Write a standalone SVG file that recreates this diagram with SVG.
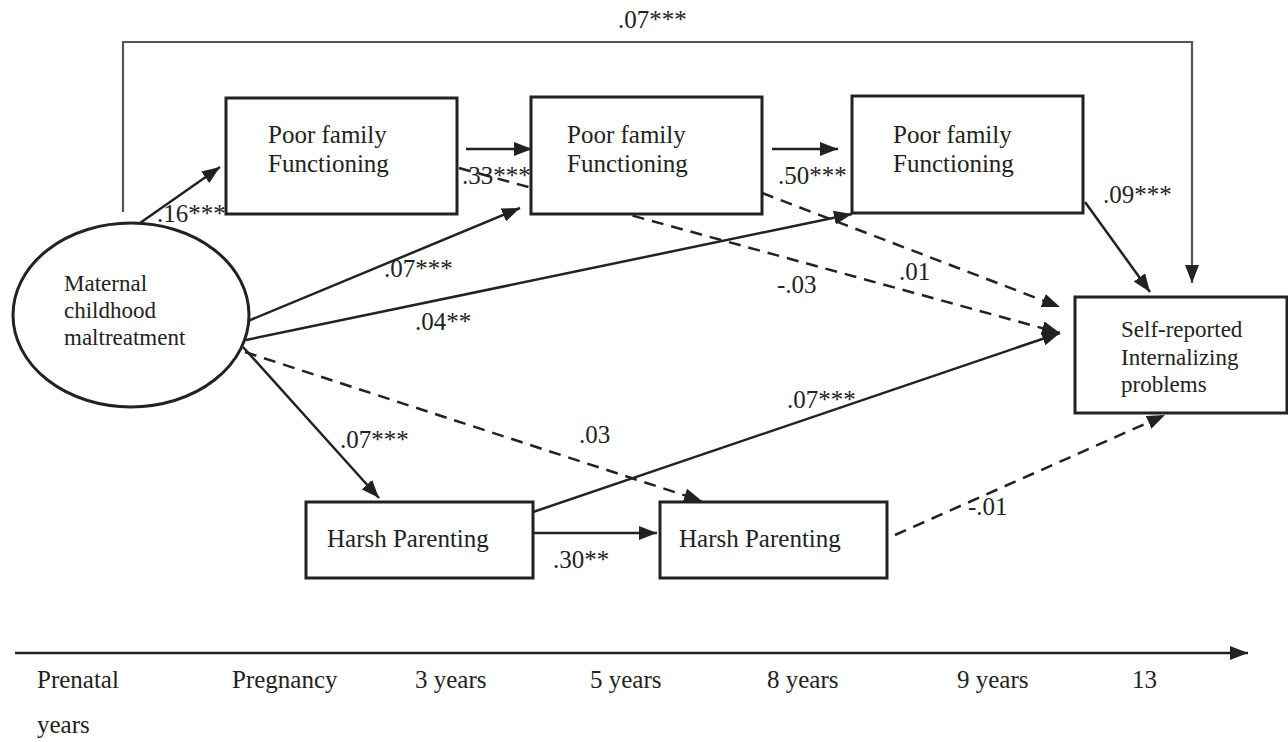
<svg xmlns="http://www.w3.org/2000/svg" width="1288" height="742" viewBox="0 0 1288 742">
<style>
text{font-family:"Liberation Serif","Times New Roman",serif;fill:#222;}
.t{font-size:25px;}
.s{font-size:23px;}
.box{fill:#fff;stroke:#222;stroke-width:3;}
.c{fill:none;stroke:#222;stroke-width:2.5;marker-end:url(#ah);}
.d{stroke-dasharray:12 8;}
</style>
<defs>
<marker id="ah" markerUnits="userSpaceOnUse" markerWidth="18" markerHeight="14" refX="18" refY="7" orient="auto">
<path d="M0,0 L18,7 L0,14 z" fill="#222"/>
</marker>
</defs>
<rect width="1288" height="742" fill="#fff"/>
<g id="connectors">
<polyline points="123,212 123,42 1192,42 1192,283" fill="none" stroke="#555" stroke-width="2.2" marker-end="url(#ah)"/>
<line class="c" x1="140" y1="223" x2="220" y2="167"/>
<line class="c" x1="466" y1="149" x2="532" y2="149"/>
<line class="c" x1="772" y1="149" x2="838" y2="149"/>
<line class="c" x1="248" y1="321" x2="520" y2="208"/>
<line class="c" x1="246" y1="340" x2="852" y2="214"/>
<line class="c" x1="243" y1="347" x2="379" y2="498"/>
<line class="c d" x1="245" y1="352" x2="702" y2="501"/>
<line class="c d" x1="459" y1="168" x2="1060" y2="333"/>
<line class="c d" x1="762" y1="193" x2="1060" y2="307"/>
<line class="c" x1="533" y1="512" x2="1060" y2="333"/>
<line class="c" x1="1085" y1="202" x2="1150" y2="292"/>
<line class="c" x1="533" y1="533" x2="657" y2="533"/>
<line class="c d" x1="895" y1="535" x2="1165" y2="415"/>
<line class="c" x1="15" y1="653" x2="1248" y2="653" stroke-width="3"/>
</g>
<g id="labels">
<text class="t" x="618" y="28">.07***</text>
<text class="t" x="157" y="222">.16***</text>
<text class="t" x="462" y="184">.33***</text>
<text class="t" x="778" y="184">.50***</text>
<text class="t" x="1103" y="203">.09***</text>
<text class="t" x="384" y="277">.07***</text>
<text class="t" x="415" y="330">.04**</text>
<text class="t" x="777" y="293">-.03</text>
<text class="t" x="899" y="280">.01</text>
<text class="t" x="787" y="408">.07***</text>
<text class="t" x="340" y="448">.07***</text>
<text class="t" x="579" y="443">.03</text>
<text class="t" x="553" y="568">.30**</text>
<text class="t" x="968" y="515">-.01</text>
</g>
<g id="maltreatment">
<ellipse cx="131" cy="315" rx="118" ry="92" fill="none" stroke="#222" stroke-width="3"/>
<text class="s" x="64" y="291">Maternal</text>
<text class="s" x="64" y="318">childhood</text>
<text class="s" x="64" y="345">maltreatment</text>
</g>
<g id="pff1">
<rect class="box" x="226" y="98" width="231" height="116"/>
<text class="t" x="268" y="143">Poor family</text>
<text class="t" x="268" y="172">Functioning</text>
</g>
<g id="pff2">
<rect class="box" x="531" y="97" width="231" height="117"/>
<text class="t" x="567" y="143">Poor family</text>
<text class="t" x="567" y="172">Functioning</text>
</g>
<g id="pff3">
<rect class="box" x="852" y="96" width="231" height="117"/>
<text class="t" x="893" y="143">Poor family</text>
<text class="t" x="893" y="172">Functioning</text>
</g>
<g id="internalizing">
<rect class="box" x="1075" y="297" width="212" height="116"/>
<text class="s" x="1121" y="337">Self-reported</text>
<text class="s" x="1121" y="365">Internalizing</text>
<text class="s" x="1121" y="392">problems</text>
</g>
<g id="harsh1">
<rect class="box" x="306" y="502" width="227" height="76"/>
<text class="t" x="327" y="547">Harsh Parenting</text>
</g>
<g id="harsh2">
<rect class="box" x="660" y="502" width="227" height="76"/>
<text class="t" x="679" y="547">Harsh Parenting</text>
</g>
<g id="timeline-labels">
<text class="t" x="37" y="688">Prenatal</text>
<text class="t" x="37" y="733">years</text>
<text class="t" x="232" y="688">Pregnancy</text>
<text class="t" x="415" y="688">3 years</text>
<text class="t" x="590" y="688">5 years</text>
<text class="t" x="767" y="688">8 years</text>
<text class="t" x="957" y="688">9 years</text>
<text class="t" x="1132" y="688">13</text>
</g>
</svg>
